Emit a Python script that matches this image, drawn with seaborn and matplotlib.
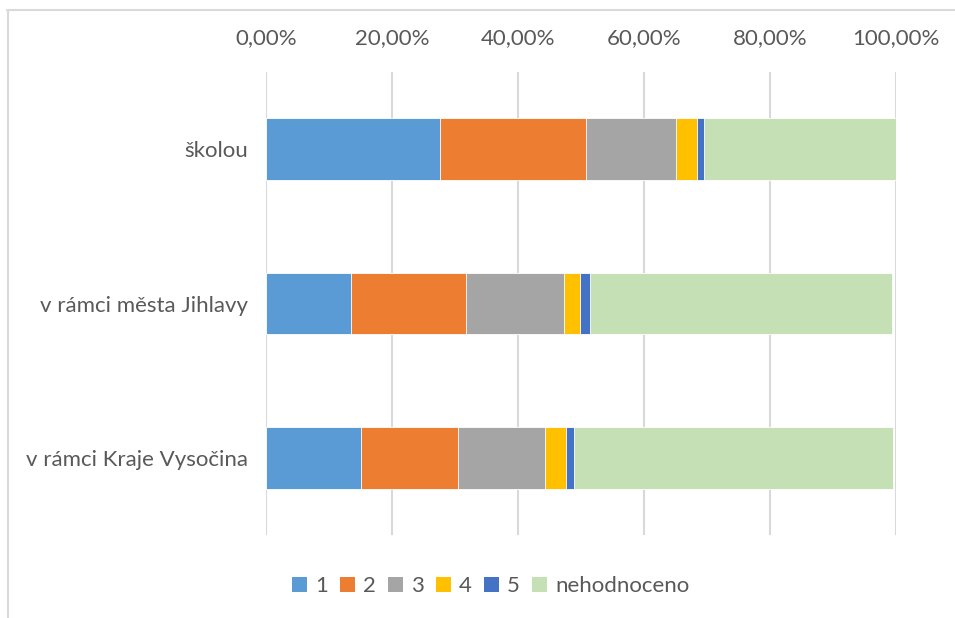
import numpy as np
import pandas as pd
import seaborn as sns
import matplotlib
matplotlib.use("Agg")
import matplotlib.pyplot as plt
from matplotlib.patches import Patch
from matplotlib.lines import Line2D
from matplotlib.ticker import FuncFormatter

## Data (shares in %)
categories = ["školou", "v rámci města Jihlavy", "v rámci Kraje Vysočina"]
series_names = ["1", "2", "3", "4", "5", "nehodnoceno"]
s1 = [27.6, 13.55, 15.1]
s2 = [23.2, 18.2, 15.4]
s3 = [14.3, 15.55, 13.8]
s4 = [3.3, 2.6, 3.3]
s5 = [1.1, 1.6, 1.3]
s_nehod = [30.5, 47.9, 50.6]
colors = ["#5B9BD5", "#ED7D31", "#A5A5A5", "#FFC000", "#4472C4", "#C5E0B4"]

df = pd.DataFrame({"kategorie": categories, "1": s1, "2": s2, "3": s3,
                   "4": s4, "5": s5, "nehodnoceno": s_nehod})

## cumulative sums for the stacked bars
cum = df[series_names].cumsum(axis=1)

sns.set_style("white")
plt.rcParams["font.family"] = ["Lato", "DejaVu Sans"]
text_col = "#595959"
fs = 16

fig = plt.figure(figsize=(9.55, 6.18), dpi=100)
ax = fig.add_axes([266 / 955, 1 - 535 / 618, 630 / 955, 463 / 618])

# draw from the full total down to the first series, each on top of the previous
for name, col in reversed(list(zip(series_names, colors))):
    sns.barplot(x=cum[name], y=df["kategorie"], color=col, orient="h", saturation=1,
                width=0.4, ax=ax, edgecolor="white", linewidth=0.6, zorder=3)

ax.set_xlim(0, 100)
ax.set_ylim(2.5, -0.5)
ax.set_xticks([0, 20, 40, 60, 80, 100])
ax.xaxis.set_major_formatter(FuncFormatter(lambda v, p: f"{v:.2f}%".replace(".", ",")))
ax.xaxis.tick_top()
ax.tick_params(axis="both", length=0, labelsize=fs, colors=text_col)
ax.tick_params(axis="x", pad=17)
ax.tick_params(axis="y", pad=13)
ax.grid(axis="x", color="#D9D9D9", linewidth=1.5, zorder=0)
ax.set_axisbelow(True)
ax.set_xlabel("")
ax.set_ylabel("")
for sp in ax.spines.values():
    sp.set_visible(False)

handles = [Patch(facecolor=c, edgecolor="none") for c in colors]
fig.legend(handles, series_names, loc="center", bbox_to_anchor=(0.514, 1 - 586 / 618),
           ncol=6, frameon=False, fontsize=fs, handlelength=0.68, handleheight=0.68,
           handletextpad=0.35, columnspacing=0.55, labelcolor=text_col)

# chart area border (only top and left visible)
fig.add_artist(Line2D([7 / 955, 1], [1 - 10 / 618, 1 - 10 / 618], color="#D9D9D9", linewidth=1.5))
fig.add_artist(Line2D([8 / 955, 8 / 955], [0, 1 - 10 / 618], color="#D9D9D9", linewidth=1.5))

fig.savefig("out.png", dpi=100)
